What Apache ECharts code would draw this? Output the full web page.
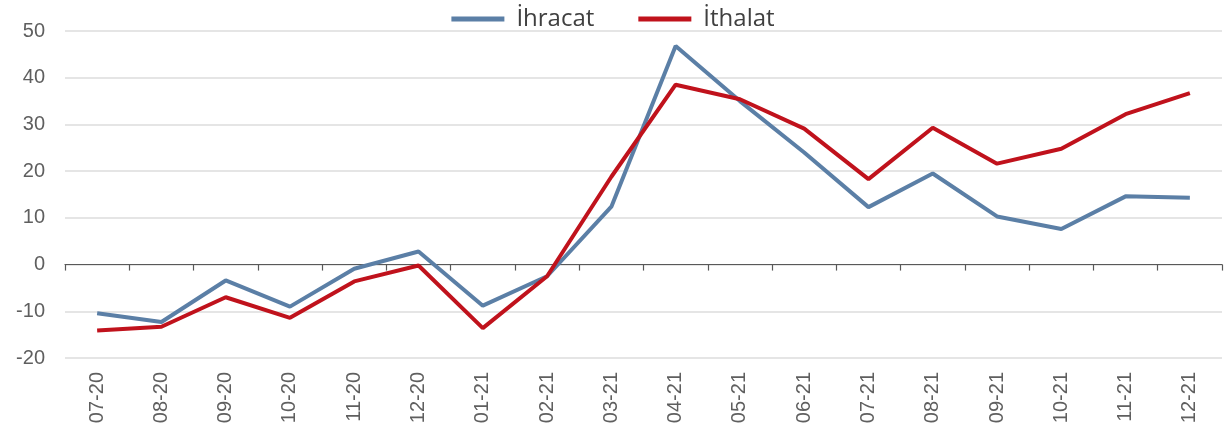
<!DOCTYPE html>
<html>
<head>
<meta charset="utf-8">
<script src="https://cdn.jsdelivr.net/npm/echarts@6/dist/echarts.min.js"></script>
<style>
html,body{margin:0;padding:0;background:#fff;}
#chart{width:1226px;height:432px;}
</style>
</head>
<body>
<div id="chart"></div>
<script>
const categories = ['07-20','08-20','09-20','10-20','11-20','12-20','01-21','02-21','03-21','04-21','05-21','06-21','07-21','08-21','09-21','10-21','11-21','12-21'];
const ihracat = [-10.4,-12.3,-3.4,-9.0,-0.9,2.8,-8.8,-2.5,12.4,46.8,35.0,24.0,12.3,19.5,10.3,7.6,14.6,14.3];
const ithalat = [-14.1,-13.3,-7.0,-11.4,-3.6,-0.2,-13.6,-2.5,18.8,38.5,35.4,29.1,18.3,29.3,21.6,24.8,32.2,36.7];
const yTicks = {min:-20, max:50, interval:10};

const chart = echarts.init(document.getElementById('chart'));
const labelFont = {fontFamily:'Liberation Sans, Arial, sans-serif', fontSize:20, color:'#5f5f5f'};
chart.setOption({
  animation:false,
  backgroundColor:'#fff',
  legend:{
    top:2, left:'center', itemWidth:53, itemHeight:5, itemGap:44, icon:'rect',
    textStyle:{fontFamily:'Open Sans, sans-serif', fontSize:24, color:'#404040', padding:[0,0,0,7]},
    data:['İhracat','İthalat']
  },
  grid:{left:65, right:4, top:31, bottom:74, containLabel:false},
  xAxis:[
    {type:'category', data:categories, position:'bottom',
     axisLine:{show:false, onZero:false}, axisTick:{show:false},
     axisLabel:Object.assign({rotate:90, margin:14, interval:0}, labelFont),
     splitLine:{show:false}},
    {type:'category', data:categories, position:'top',
     axisLine:{show:true, onZero:true, lineStyle:{color:'#595959', width:1.2}},
     axisTick:{show:true, inside:true, length:6, lineStyle:{color:'#595959', width:1.2}},
     axisLabel:{show:false}, splitLine:{show:false}}
  ],
  yAxis:{type:'value', min:yTicks.min, max:yTicks.max, interval:yTicks.interval,
    axisLine:{show:false}, axisTick:{show:false},
    axisLabel:Object.assign({margin:20}, labelFont),
    splitLine:{lineStyle:{color:'#dcdcdc', width:1.5}}},
  series:[
    {name:'İhracat', type:'line', data:ihracat, xAxisIndex:0, showSymbol:false, symbol:'none',
     lineStyle:{color:'#5b7fa6', width:4}, itemStyle:{color:'#5b7fa6'}, z:3},
    {name:'İthalat', type:'line', data:ithalat, xAxisIndex:0, showSymbol:false, symbol:'none',
     lineStyle:{color:'#c0121c', width:4}, itemStyle:{color:'#c0121c'}, z:4}
  ]
});
</script>
</body>
</html>
